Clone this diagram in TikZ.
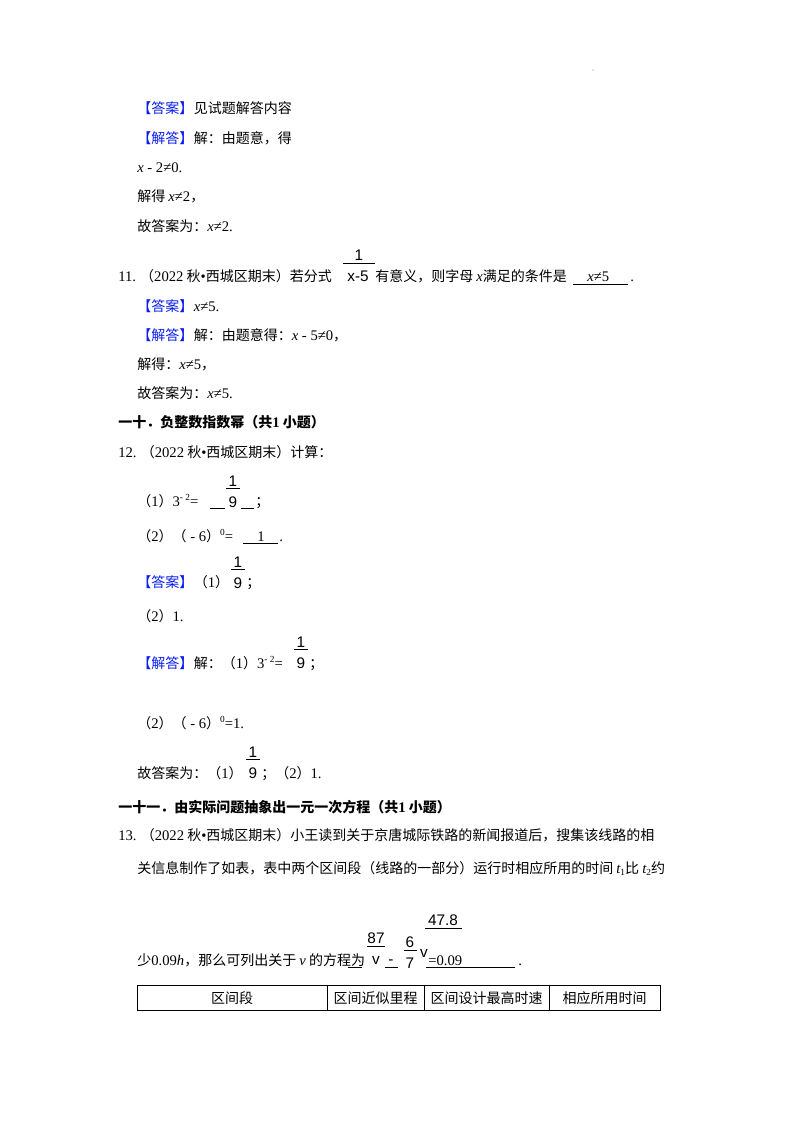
\documentclass[tikz,border=0pt]{standalone}
\usepackage{fontspec}
\setmainfont{Liberation Serif}
\newfontfamily\cjk{Noto Sans CJK SC}
\newfontfamily\arl{Liberation Sans}
\newcommand\en[1]{{\rmfamily\fontsize{11}{12}\selectfont #1}}
\newcommand\vx{{\rmfamily\itshape\fontsize{11}{12}\selectfont x}}
\definecolor{ansblue}{RGB}{10,30,240}
\tikzset{
  t/.style={anchor=base west,inner sep=0pt,font=\cjk\fontsize{10.5}{12}\selectfont},
  b/.style={t,font=\cjk\bfseries\fontsize{10.5}{12}\selectfont},
  fr/.style={anchor=base,inner sep=0pt,font=\arl\fontsize{11.5}{12}\selectfont},
  tag/.style={t,text=ansblue},
  cell/.style={anchor=center,inner sep=0pt,font=\cjk\fontsize{10.5}{12}\selectfont},
}
\newcommand\frc[4]{% x, ybase(num), num, den
  \node[fr] at (#1,#2) {#3};
  \node[fr] at (#1,#2+21) {#4};
}
\begin{document}
\begin{tikzpicture}[x=0.75pt,y=-0.75pt]
\useasboundingbox (0,0) rectangle (800,1132);
\fill[white] (0,0) rectangle (800,1132);
\fill[gray] (593,70) circle (0.6);
% Q10 answer
\node[tag] (a1) at (137,113) {【答案】};
\node[t] at (a1.base east) {见试题解答内容};
\node[tag] (a2) at (137,143) {【解答】};
\node[t] at (a2.base east) {解：由题意，得};
\node[t] at (137,172) {\vx\en{ - 2≠0.}};
\node[t] at (137,201) {解得 \vx\en{≠2}，};
\node[t] at (137,231) {故答案为：\vx\en{≠2.}};
% Q11
\node[t] at (118,281) {\en{11.} （\en{2022} 秋\en{•}西城区期末）若分式};
\node[fr] at (359,260) {1};
\draw (343,263) -- (375,263);
\node[fr] at (358,281) {x-5};
\node[t] at (375,281) {有意义，则字母 \vx 满足的条件是};
\node[t] at (587,281) {\vx\en{≠5}};
\draw (573,284) -- (628,284);
\node[t] at (630,281) {\en{.}};
\node[tag] (a3) at (137,311) {【答案】};
\node[t] at (a3.base east) {\vx\en{≠5.}};
\node[tag] (a4) at (137,340) {【解答】};
\node[t] at (a4.base east) {解：由题意得：\vx\en{ - 5≠0}，};
\node[t] at (137,369) {解得：\vx\en{≠5}，};
\node[t] at (137,398) {故答案为：\vx\en{≠5.}};
% Section 10
\node[b] at (118,427) {一十．负整数指数幂（共\en{\bfseries 1} 小题）};
\node[t] at (118,457) {\en{12.} （\en{2022} 秋\en{•}西城区期末）计算：};
\node[t] at (137,506) {（\en{1}）\en{3}\raisebox{4pt}{\en{\scriptsize - 2}}\en{=}};
\draw (210,508) -- (225,508);
\frc{233}{486}{1}{9}
\draw (226,488) -- (240,488);
\draw (241,508) -- (254,508);
\node[t] at (255,506) {；};
\node[t] at (137,541) {（\en{2}）（\en{ - 6}）\raisebox{4pt}{\en{\scriptsize 0}}\en{=}};
\node[t] at (257,541) {\en{1}};
\draw (243,543) -- (278,543);
\node[t] at (279,541) {\en{.}};
\node[tag] (a5) at (137,587) {【答案】};
\node[t] at (a5.base east) {（\en{1}）};
\frc{238}{567}{1}{9}
\draw (231,569) -- (245,569);
\node[t] at (246,587) {；};
\node[t] at (137,621) {（\en{2}）\en{1.}};
\node[tag] (a6) at (137,668) {【解答】};
\node[t] at (a6.base east) {解：（\en{1}）\en{3}\raisebox{4pt}{\en{\scriptsize - 2}}\en{=}};
\frc{301}{647}{1}{9}
\draw (294,649) -- (308,649);
\node[t] at (309,668) {；};
\node[t] at (137,728) {（\en{2}）（\en{ - 6}）\raisebox{4pt}{\en{\scriptsize 0}}\en{=1.}};
\node[t] at (137,778) {故答案为：（\en{1}）};
\frc{253}{757}{1}{9}
\draw (246,759) -- (260,759);
\node[t] at (261,778) {；（\en{2}）\en{1.}};
% Section 11
\node[b] at (118,812) {一十一．由实际问题抽象出一元一次方程（共\en{\bfseries 1} 小题）};
\node[t] at (118,840) {\en{13.} （\en{2022} 秋\en{•}西城区期末）小王读到关于京唐城际铁路的新闻报道后，搜集该线路的相};
\node[t] at (137,873) {关信息制作了如表，表中两个区间段（线路的一部分）运行时相应所用的时间 \en{\itshape t}\raisebox{-2pt}{\en{\scriptsize 1}}比 \en{\itshape t}\raisebox{-2pt}{\en{\scriptsize 2}}约};
\node[t] at (137,965) {少\en{0.09}\en{\itshape h}，那么可列出关于 \en{\itshape v} 的方程为};
\draw (348,967) -- (362,967);
\frc{376}{943}{87}{v}
\draw (367,946) -- (385,946);
\node[fr] at (391,964) {-};
\draw (385,967) -- (398,967);
\node[fr] at (443,925) {47.8};
\draw (425,928) -- (462,928);
\frc{410}{947}{6}{7}
\draw (404,950) -- (417,950);
\node[fr] at (424,957) {v};
\node[t] at (428,965) {\en{=0.09}};
\draw (426,967) -- (515,967);
\node[t] at (518,965) {\en{.}};
% table
\draw[line width=0.5pt] (137,985) rectangle (660,1010);
\foreach \cx in {327,424,549} \draw[line width=0.5pt] (\cx,985) -- (\cx,1010);
\node[cell] at (232,998) {区间段};
\node[cell] at (375.5,998) {区间近似里程};
\node[cell] at (486.5,998) {区间设计最高时速};
\node[cell] at (604.5,998) {相应所用时间};
\end{tikzpicture}
\end{document}
